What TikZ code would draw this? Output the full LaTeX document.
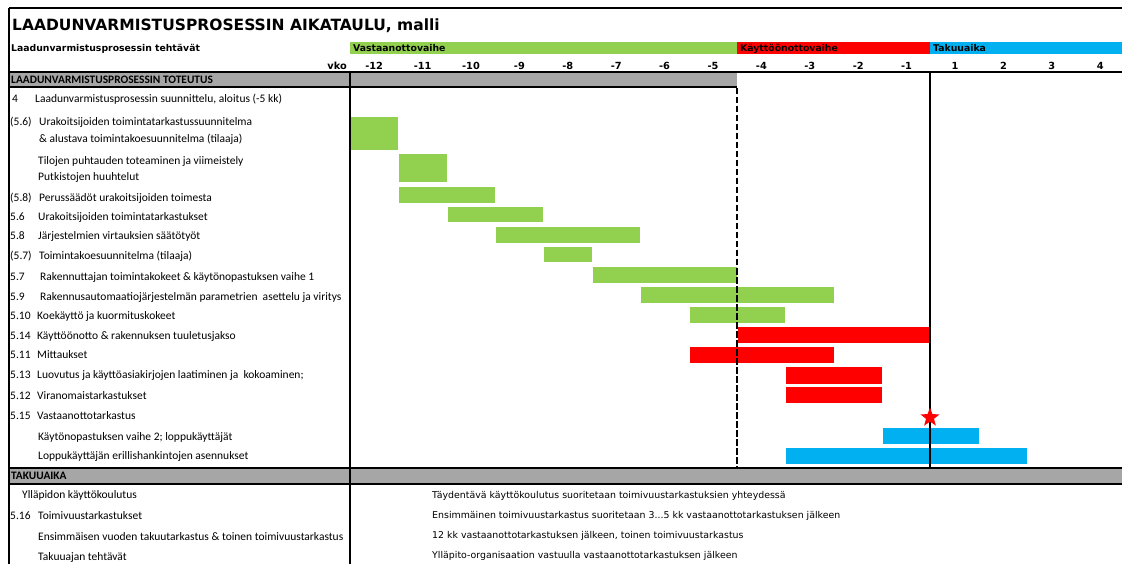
\documentclass[tikz,border=0pt]{standalone}
\usepackage{fontspec}
\setmainfont{Carlito}
\newfontfamily\verd{DejaVu Sans}
\usetikzlibrary{shapes.geometric}

\definecolor{phgreen}{HTML}{92D050}
\definecolor{phred}{HTML}{FF0000}
\definecolor{phblue}{HTML}{00B0F0}
\definecolor{bandgray}{HTML}{A6A6A6}

\begin{document}
\begin{tikzpicture}[
        x=1pt, y=-1pt,
        txt/.style={anchor=base west, inner sep=0pt, font=\fontsize{11.5}{13}\selectfont},
        head/.style={anchor=base west, inner sep=0pt, font=\fontsize{11.4}{13}\selectfont\bfseries},
        title/.style={anchor=base west, inner sep=0pt, font=\verd\bfseries\fontsize{15.5}{18}\selectfont},
        phase/.style={anchor=base west, inner sep=0pt, font=\verd\bfseries\fontsize{9.3}{11}\selectfont},
        week/.style={anchor=base, inner sep=0pt, font=\verd\bfseries\fontsize{9.8}{11}\selectfont},
        note/.style={anchor=base west, inner sep=0pt, font=\verd\fontsize{9.4}{11}\selectfont},
        bar/.style={draw=white, line width=0.5pt},
        frame/.style={draw=black, line width=1.4pt},
        gridline/.style={draw=black, line width=1.1pt}
    ]
        \fill[white] (0,0) rectangle (1122,564);
        \useasboundingbox (0,0) rectangle (1122,564);

        % phases
        \fill[phgreen] (350,42) rectangle (737,54);
        \fill[phred] (737,42) rectangle (930,54);
        \fill[phblue] (930,42) rectangle (1122,54);

        % grey bands
        \fill[bandgray] (9,72) rectangle (737,87);
        \fill[bandgray] (9,468) rectangle (1122,484);

        % bars
        \filldraw[bar, fill=phgreen] (350,116) rectangle (398.4,150);
        \filldraw[bar, fill=phgreen] (398.4,153) rectangle (446.8,182);
        \filldraw[bar, fill=phgreen] (398.4,186) rectangle (495.2,203);
        \filldraw[bar, fill=phgreen] (446.8,206) rectangle (543.6,222);
        \filldraw[bar, fill=phgreen] (495.2,226) rectangle (640.4,243);
        \filldraw[bar, fill=phgreen] (543.6,246) rectangle (592,262);
        \filldraw[bar, fill=phgreen] (592,266) rectangle (737.2,283);
        \filldraw[bar, fill=phgreen] (640.4,286) rectangle (834,303);
        \filldraw[bar, fill=phgreen] (688.8,306) rectangle (785.6,323);
        \filldraw[bar, fill=phred] (737.2,326) rectangle (930.8,343);
        \filldraw[bar, fill=phred] (688.8,346) rectangle (834,363);
        \filldraw[bar, fill=phred] (785.6,366) rectangle (882.4,384);
        \filldraw[bar, fill=phred] (785.6,386) rectangle (882.4,403);
        \filldraw[bar, fill=phblue] (882.4,427) rectangle (979.2,444);
        \filldraw[bar, fill=phblue] (785.6,447) rectangle (1027.6,464);

        % grid
        \draw[frame] (9,8) -- (1122,8);
        \draw[frame] (9,8) -- (9,564);
        \draw[gridline] (9,72) -- (1122,72);
        \draw[gridline] (9,87) -- (737,87);
        \draw[gridline] (9,468) -- (1122,468);
        \draw[gridline] (9,484) -- (1122,484);
        \draw[gridline] (350,72) -- (350,564);
        \draw[line width=2.5pt, dash pattern=on 6.5pt off 2.5pt] (737,88) -- (737,468);
        \draw[line width=1.5pt] (930,72) -- (930,468);
        \node[star, star points=5, star point ratio=2.4, fill=phred, minimum size=20pt, inner sep=0pt] (accept) at (930,417.5) {};

        % headings
        \node[title] (title) at (12,31) {LAADUNVARMISTUSPROSESSIN AIKATAULU, malli};
        \node[phase] (tasks) at (11,51.5) {Laadunvarmistusprosessin tehtävät};
        \node[phase] (ph1) at (353,51.5) {Vastaanottovaihe};
        \node[phase] (ph2) at (740,51.5) {Käyttöönottovaihe};
        \node[phase] (ph3) at (933,51.5) {Takuuaika};
        \node[week, anchor=base east] (vko) at (347,69.5) {vko};

        % weeks
        \node[week] (w1) at (374.2,69.5) {-12};
        \node[week] (w2) at (422.6,69.5) {-11};
        \node[week] (w3) at (471,69.5) {-10};
        \node[week] (w4) at (519.4,69.5) {-9};
        \node[week] (w5) at (567.8,69.5) {-8};
        \node[week] (w6) at (616.2,69.5) {-7};
        \node[week] (w7) at (664.6,69.5) {-6};
        \node[week] (w8) at (713,69.5) {-5};
        \node[week] (w9) at (761.4,69.5) {-4};
        \node[week] (w10) at (809.8,69.5) {-3};
        \node[week] (w11) at (858.2,69.5) {-2};
        \node[week] (w12) at (906.6,69.5) {-1};
        \node[week] (w13) at (955,69.5) {1};
        \node[week] (w14) at (1003.4,69.5) {2};
        \node[week] (w15) at (1051.8,69.5) {3};
        \node[week] (w16) at (1100.2,69.5) {4};

        % tasks
        \node[head] (sec1) at (11,83.5) {LAADUNVARMISTUSPROSESSIN TOTEUTUS};
        \node[txt] (n1) at (12,103) {4};
        \node[txt] (t1) at (35,103) {Laadunvarmistusprosessin suunnittelu, aloitus (-5 kk)};
        \node[txt] (n2) at (10,126) {(5.6)};
        \node[txt] (t2) at (39,126) {Urakoitsijoiden toimintatarkastussuunnitelma};
        \node[txt] (t2b) at (39,143) {\& alustava toimintakoesuunnitelma (tilaaja)};
        \node[txt] (t3) at (38,165) {Tilojen puhtauden toteaminen ja viimeistely};
        \node[txt] (t3b) at (38,181) {Putkistojen huuhtelut};
        \node[txt] (n4) at (10,201.5) {(5.8)};
        \node[txt] (t4) at (39,201.5) {Perussäädöt urakoitsijoiden toimesta};
        \node[txt] (n5) at (10,220.5) {5.6};
        \node[txt] (t5) at (38,220.5) {Urakoitsijoiden toimintatarkastukset};
        \node[txt] (n6) at (10,240) {5.8};
        \node[txt] (t6) at (38,240) {Järjestelmien virtauksien säätötyöt};
        \node[txt] (n7) at (10,260) {(5.7)};
        \node[txt] (t7) at (39,260) {Toimintakoesuunnitelma (tilaaja)};
        \node[txt] (n8) at (10,280.5) {5.7};
        \node[txt] (t8) at (40,280.5) {Rakennuttajan toimintakokeet \& käytönopastuksen vaihe 1};
        \node[txt] (n9) at (10,300.5) {5.9};
        \node[txt] (t9) at (40,300.5) {Rakennusautomaatiojärjestelmän parametrien\ \ asettelu ja viritys};
        \node[txt] (n10) at (10,319.5) {5.10};
        \node[txt] (t10) at (37,319.5) {Koekäyttö ja kuormituskokeet};
        \node[txt] (n11) at (10,339.5) {5.14};
        \node[txt] (t11) at (37,339.5) {Käyttöönotto \& rakennuksen tuuletusjakso};
        \node[txt] (n12) at (10,358.5) {5.11};
        \node[txt] (t12) at (37,358.5) {Mittaukset};
        \node[txt] (n13) at (10,378.5) {5.13};
        \node[txt] (t13) at (37,378.5) {Luovutus ja käyttöasiakirjojen laatiminen ja\ \ kokoaminen;};
        \node[txt] (n14) at (10,399) {5.12};
        \node[txt] (t14) at (37,399) {Viranomaistarkastukset};
        \node[txt] (n15) at (10,419) {5.15};
        \node[txt] (t15) at (37,419) {Vastaanottotarkastus};
        \node[txt] (t16) at (38,440) {Käytönopastuksen vaihe 2; loppukäyttäjät};
        \node[txt] (t17) at (38,459.5) {Loppukäyttäjän erillishankintojen asennukset};

        % warranty
        \node[head] (sec2) at (11,479.5) {TAKUUAIKA};
        \node[txt] (g1) at (22,498.5) {Ylläpidon käyttökoulutus};
        \node[txt] (m2) at (10,519) {5.16};
        \node[txt] (g2) at (38,519) {Toimivuustarkastukset};
        \node[txt] (g3) at (38,540) {Ensimmäisen vuoden takuutarkastus \& toinen toimivuustarkastus};
        \node[txt] (g4) at (38,560) {Takuuajan tehtävät};
        \node[note] (r1) at (432,498) {Täydentävä käyttökoulutus suoritetaan toimivuustarkastuksien yhteydessä};
        \node[note] (r2) at (432,518) {Ensimmäinen toimivuustarkastus suoritetaan 3...5 kk vastaanottotarkastuksen jälkeen};
        \node[note] (r3) at (432,538) {12 kk vastaanottotarkastuksen jälkeen, toinen toimivuustarkastus};
        \node[note] (r4) at (432,558) {Ylläpito-organisaation vastuulla vastaanottotarkastuksen jälkeen};
    \end{tikzpicture}
\end{document}
